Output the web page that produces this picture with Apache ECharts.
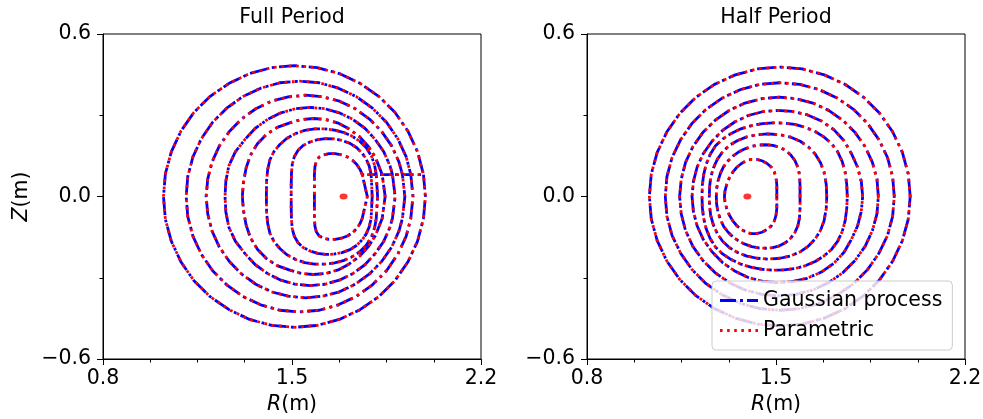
<!DOCTYPE html>
<html>
<head>
<meta charset="utf-8">
<script src="https://cdn.jsdelivr.net/npm/echarts@6/dist/echarts.min.js"></script>
<style>
  html, body { margin: 0; padding: 0; background: #fff; }
  #chart { width: 983px; height: 419px; }
</style>
</head>
<body>
<div id="chart"></div>
<script>
"use strict";

// tick values
const xTicks = [0.8, 1.5, 2.2];
const yTicks = [-0.6, 0.0, 0.6];

// magnetic axis (R, Z)
const fullAxis = [1.691, 0];
const halfAxis = [1.394, 0];

// flux surfaces, upper half only, [R, Z] from outboard midplane to inboard midplane
// Full Period (2nd point of each is where the plotted line steps to the next surface)
const full1 = [[1.779,0],[1.760,0.081],[1.752,0.100],[1.740,0.118],[1.724,0.134],[1.705,0.146],[1.683,0.154],[1.660,0.158],[1.637,0.158],[1.617,0.154],[1.600,0.145],[1.590,0.130],[1.585,0.110],[1.583,0.080],[1.583,0.040],[1.583,0]];
const full2 = [[1.797,0],[1.793,0.081],[1.786,0.112],[1.775,0.138],[1.760,0.160],[1.740,0.180],[1.715,0.196],[1.685,0.207],[1.655,0.213],[1.625,0.214],[1.595,0.210],[1.566,0.201],[1.541,0.188],[1.522,0.170],[1.509,0.148],[1.501,0.120],[1.498,0.085],[1.497,0.040],[1.497,0]];
const full3 = [[1.817,0],[1.812,0.081],[1.806,0.115],[1.795,0.148],[1.775,0.180],[1.750,0.205],[1.720,0.224],[1.690,0.237],[1.658,0.245],[1.620,0.250],[1.584,0.250],[1.547,0.244],[1.512,0.232],[1.480,0.214],[1.455,0.192],[1.433,0.166],[1.418,0.135],[1.410,0.100],[1.406,0.060],[1.405,0]];
const full4 = [[1.845,0],[1.834,0.081],[1.809,0.144],[1.783,0.185],[1.750,0.221],[1.712,0.249],[1.671,0.271],[1.626,0.284],[1.580,0.288],[1.534,0.284],[1.489,0.271],[1.445,0.255],[1.405,0.229],[1.372,0.195],[1.346,0.152],[1.330,0.105],[1.320,0.050],[1.316,0]];
const full5 = [[1.882,0],[1.872,0.081],[1.863,0.113],[1.840,0.165],[1.808,0.211],[1.770,0.252],[1.725,0.285],[1.675,0.309],[1.622,0.324],[1.567,0.329],[1.512,0.324],[1.459,0.309],[1.410,0.285],[1.364,0.252],[1.326,0.211],[1.290,0.165],[1.266,0.113],[1.255,0.057],[1.252,0]];
const full6 = [[1.918,0],[1.909,0.081],[1.896,0.128],[1.869,0.187],[1.832,0.240],[1.787,0.286],[1.734,0.324],[1.676,0.352],[1.614,0.368],[1.550,0.374],[1.486,0.368],[1.424,0.352],[1.366,0.324],[1.313,0.286],[1.268,0.240],[1.231,0.187],[1.204,0.128],[1.188,0.065],[1.182,0]];
const full7 = [[1.948,0],[1.940,0.081],[1.923,0.146],[1.892,0.213],[1.850,0.274],[1.798,0.326],[1.738,0.369],[1.672,0.400],[1.601,0.420],[1.528,0.426],[1.455,0.420],[1.384,0.400],[1.318,0.369],[1.258,0.326],[1.206,0.274],[1.164,0.213],[1.133,0.146],[1.114,0.074],[1.108,0]];
const full8 = [[1.994,0],[1.987,0.081],[1.965,0.165],[1.929,0.242],[1.881,0.311],[1.821,0.370],[1.752,0.418],[1.675,0.454],[1.593,0.476],[1.509,0.483],[1.425,0.476],[1.343,0.454],[1.267,0.418],[1.197,0.370],[1.137,0.311],[1.089,0.242],[1.053,0.165],[1.031,0.084],[1.024,0]];

// Half Period
const half1 = [[1.503,0],[1.503,0.044],[1.500,0.070],[1.494,0.090],[1.483,0.108],[1.467,0.122],[1.448,0.132],[1.428,0.137],[1.408,0.137],[1.390,0.132],[1.372,0.122],[1.355,0.108],[1.340,0.090],[1.327,0.068],[1.317,0.043],[1.311,0.020],[1.309,0]];
const half2 = [[1.589,0],[1.589,0.040],[1.587,0.080],[1.581,0.108],[1.570,0.133],[1.555,0.153],[1.536,0.170],[1.513,0.182],[1.488,0.189],[1.462,0.191],[1.436,0.190],[1.410,0.185],[1.385,0.176],[1.361,0.164],[1.340,0.149],[1.322,0.131],[1.306,0.110],[1.294,0.085],[1.285,0.057],[1.280,0.028],[1.279,0]];
const half3 = [[1.688,0],[1.686,0.045],[1.678,0.090],[1.665,0.125],[1.645,0.157],[1.620,0.183],[1.590,0.204],[1.555,0.219],[1.515,0.228],[1.470,0.231],[1.430,0.228],[1.392,0.220],[1.358,0.207],[1.328,0.189],[1.303,0.166],[1.283,0.138],[1.268,0.105],[1.258,0.070],[1.254,0.035],[1.253,0]];
const half4 = [[1.764,0],[1.762,0.045],[1.756,0.090],[1.745,0.130],[1.728,0.166],[1.705,0.196],[1.677,0.220],[1.645,0.240],[1.610,0.255],[1.570,0.266],[1.530,0.271],[1.490,0.272],[1.450,0.269],[1.410,0.262],[1.370,0.250],[1.334,0.233],[1.302,0.212],[1.276,0.187],[1.256,0.155],[1.241,0.118],[1.232,0.080],[1.227,0.040],[1.226,0]];
const half5 = [[1.821,0],[1.816,0.055],[1.802,0.109],[1.779,0.159],[1.752,0.206],[1.715,0.246],[1.668,0.279],[1.615,0.302],[1.560,0.314],[1.505,0.318],[1.450,0.313],[1.397,0.299],[1.347,0.275],[1.302,0.244],[1.263,0.204],[1.231,0.159],[1.208,0.109],[1.194,0.055],[1.189,0]];
const half6 = [[1.879,0],[1.874,0.064],[1.857,0.126],[1.830,0.184],[1.793,0.236],[1.748,0.281],[1.695,0.318],[1.637,0.345],[1.575,0.361],[1.511,0.367],[1.447,0.361],[1.385,0.345],[1.327,0.318],[1.274,0.281],[1.229,0.236],[1.192,0.184],[1.165,0.126],[1.149,0.064],[1.143,0]];
const half7 = [[1.938,0],[1.932,0.073],[1.913,0.144],[1.881,0.210],[1.839,0.270],[1.787,0.322],[1.726,0.364],[1.659,0.395],[1.588,0.414],[1.514,0.420],[1.440,0.414],[1.369,0.395],[1.302,0.364],[1.241,0.322],[1.189,0.270],[1.147,0.210],[1.115,0.144],[1.096,0.073],[1.090,0]];
const half8 = [[1.997,0],[1.990,0.083],[1.968,0.163],[1.932,0.239],[1.884,0.307],[1.825,0.366],[1.756,0.414],[1.679,0.449],[1.598,0.471],[1.514,0.478],[1.430,0.471],[1.349,0.449],[1.272,0.414],[1.203,0.366],[1.144,0.307],[1.096,0.239],[1.060,0.163],[1.038,0.083],[1.031,0]];

const fullSurfaces = [full1, full2, full3, full4, full5, full6, full7, full8];
const halfSurfaces = [half1, half2, half3, half4, half5, half6, half7, half8];

const FONT = "DejaVu Sans";
const FS = 20.5;
const BLUE = "#0000ff";
const RED = "#ff0000";

// the sections are up-down symmetric: lower half is the upper half reflected
const lowerHalf = (upper) => upper.slice(0, -1).reverse().map(p => [p[0], -p[1]]);

// full period: one continuous line, each loop starts/ends at its 2nd point
const buildFullLine = (surfaces) => {
    let pts = [];
    for (const s of surfaces) {
        pts = pts.concat(s.slice(1), lowerHalf(s), [s[1]]);
    }
    return pts;
};

// half period: separate closed loops
const buildHalfLine = (surfaces) => {
    let pts = [];
    for (const s of surfaces) {
        pts = pts.concat(s, lowerHalf(s), [["-", "-"]]);
    }
    return pts;
};

const fullLine = buildFullLine(fullSurfaces);
const halfLine = buildHalfLine(halfSurfaces);

const fmtTick = (v) => (v < -1e-9 ? "\u2212" + (-v).toFixed(1) : Math.abs(v).toFixed(1));

const makeXAxis = (gridIndex) => ({
    type: "value", gridIndex,
    min: xTicks[0], max: xTicks[xTicks.length - 1], interval: 0.7,
    name: "{i|R}(m)", nameLocation: "middle", nameGap: 33,
    nameTextStyle: { fontFamily: FONT, fontSize: FS, color: "#000",
        rich: { i: { fontFamily: FONT, fontSize: FS, fontStyle: "italic", color: "#000" } } },
    axisLine: { show: true, onZero: false, lineStyle: { color: "#000", width: 1 } },
    axisTick: { show: true, inside: false, length: 6, lineStyle: { color: "#000", width: 1 } },
    minorTick: { show: true, splitNumber: 4, length: 3.5, lineStyle: { color: "#000", width: 1 } },
    axisLabel: { show: true, margin: 9, formatter: fmtTick, showMinLabel: true, showMaxLabel: true,
        fontFamily: FONT, fontSize: FS, color: "#000" },
    splitLine: { show: false }, minorSplitLine: { show: false }
});

const makeYAxis = (gridIndex) => ({
    type: "value", gridIndex,
    min: yTicks[0], max: yTicks[yTicks.length - 1], interval: 0.6,
    name: gridIndex === 0 ? "{i|Z}(m)" : "", nameLocation: "middle", nameGap: 71,
    nameTextStyle: { fontFamily: FONT, fontSize: FS, color: "#000",
        rich: { i: { fontFamily: FONT, fontSize: FS, fontStyle: "italic", color: "#000" } } },
    axisLine: { show: true, onZero: false, lineStyle: { color: "#000", width: 1 } },
    axisTick: { show: true, inside: false, length: 6, lineStyle: { color: "#000", width: 1 } },
    minorTick: { show: true, splitNumber: 2, length: 3.5, lineStyle: { color: "#000", width: 1 } },
    axisLabel: { show: true, margin: 12, formatter: fmtTick, showMinLabel: true, showMaxLabel: true,
        fontFamily: FONT, fontSize: FS, color: "#000" },
    splitLine: { show: false }, minorSplitLine: { show: false }
});

// no library smoothing: the points are dense enough
const gpLine = (idx, data) => ({
    name: "Gaussian process", type: "line", xAxisIndex: idx, yAxisIndex: idx, data,
    showSymbol: false, smooth: false, silent: true, z: 2,
    itemStyle: { color: BLUE },
    lineStyle: { color: BLUE, width: 2.8, type: [18, 4.5, 2.8, 4.5], cap: "butt", join: "round" }
});

const parLine = (idx, data) => ({
    name: "Parametric", type: "line", xAxisIndex: idx, yAxisIndex: idx, data,
    showSymbol: false, smooth: false, silent: true, z: 3,
    itemStyle: { color: RED },
    lineStyle: { color: RED, width: 2.8, type: [2.8, 4.6], cap: "butt", join: "round" }
});

const axisDot = (idx, point) => ({
    name: "axis", type: "scatter", xAxisIndex: idx, yAxisIndex: idx, data: [point],
    symbol: "circle", symbolSize: [8, 6], silent: true, z: 4,
    itemStyle: { color: RED }
});

const chart = echarts.init(document.getElementById("chart"), null, { renderer: "canvas" });

chart.setOption({
    animation: false,
    backgroundColor: "#fff",
    textStyle: { fontFamily: FONT },
    grid: [
        { left: 103, top: 34, width: 378, height: 325, show: true, borderColor: "#000", borderWidth: 1,
          backgroundColor: "transparent", containLabel: false, outerBoundsMode: "none" },
        { left: 587, top: 34, width: 378, height: 325, show: true, borderColor: "#000", borderWidth: 1,
          backgroundColor: "transparent", containLabel: false, outerBoundsMode: "none" }
    ],
    xAxis: [makeXAxis(0), makeXAxis(1)],
    yAxis: [makeYAxis(0), makeYAxis(1)],
    legend: {
        show: true, orient: "vertical", left: 712, top: 281,
        itemWidth: 38, itemHeight: 3, itemGap: 9, padding: [9, 10, 9, 8],
        backgroundColor: "rgba(255,255,255,0.8)", borderColor: "#cccccc", borderWidth: 1, borderRadius: 4,
        selectedMode: false,
        textStyle: { fontFamily: FONT, fontSize: FS, color: "#000" },
        data: [
            { name: "Gaussian process", icon: "path://M0,0H16V3H0Z M20,0H23V3H20Z M27,0H38V3H27Z",
              itemStyle: { color: BLUE, borderWidth: 0 } },
            { name: "Parametric",
              icon: "path://M0,0H2.6V3H0Z M7.1,0H9.7V3H7.1Z M14.2,0H16.8V3H14.2Z M21.3,0H23.9V3H21.3Z M28.4,0H31V3H28.4Z M35.4,0H38V3H35.4Z",
              itemStyle: { color: RED, borderWidth: 0 } }
        ]
    },
    graphic: [
        { type: "text", x: 292, y: 18, silent: true,
          style: { text: "Full Period", fill: "#000", font: FS + "px '" + FONT + "'",
                   textAlign: "center", textVerticalAlign: "middle" } },
        { type: "text", x: 776, y: 18, silent: true,
          style: { text: "Half Period", fill: "#000", font: FS + "px '" + FONT + "'",
                   textAlign: "center", textVerticalAlign: "middle" } }
    ],
    series: [
        gpLine(0, fullLine), parLine(0, fullLine), axisDot(0, fullAxis),
        gpLine(1, halfLine), parLine(1, halfLine), axisDot(1, halfAxis)
    ]
});
</script>
</body>
</html>
